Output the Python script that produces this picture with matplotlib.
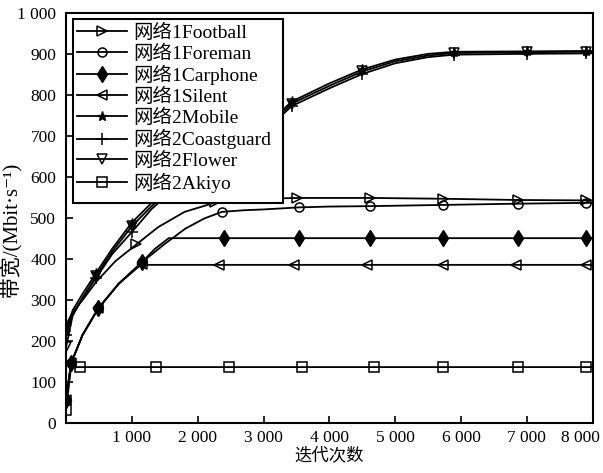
import matplotlib
matplotlib.use("Agg")
import matplotlib.pyplot as plt
from matplotlib.transforms import ScaledTranslation
from matplotlib.patches import Rectangle

plt.rcParams['font.family'] = ['Liberation Serif', 'Noto Sans CJK SC', 'DejaVu Sans']

# ---- data ----
names = ["网络1Football", "网络1Foreman", "网络1Carphone", "网络1Silent",
         "网络2Mobile", "网络2Coastguard", "网络2Flower", "网络2Akiyo"]

x_top = [0, 100, 250, 460, 700, 1000, 1300, 1700, 2200, 2700, 3270, 3430,
         4000, 4500, 5000, 5500, 5900, 7000, 7900, 8000]
y_mobile = [225, 275, 315, 367, 425, 489, 537, 592, 648, 703, 760, 784,
            828, 862, 886, 900, 905, 906, 907, 907]
y_coast = [215, 265, 305, 355, 412, 466, 522, 579, 636, 691, 749, 773,
           816, 851, 877, 892, 898, 900, 901, 901]
y_flower = [185, 262, 305, 360, 418, 480, 529, 585, 642, 697, 755, 779,
            822, 857, 882, 896, 902, 904, 905, 905]
mk_top = [0, 3, 5, 8, 11, 13, 16, 17, 18]

x_football = [0, 100, 250, 460, 750, 1070, 1400, 1800, 2270, 2600, 3000,
              3510, 4620, 5730, 6860, 7900, 8000]
y_football = [240, 270, 300, 345, 395, 436, 478, 515, 538, 545, 547,
              549, 549, 547, 544, 543, 543]
mk_football = [0, 5, 8, 11, 12, 13, 14, 15]

x_foreman = [0, 76, 250, 490, 800, 1150, 1500, 1810, 2100, 2365, 2700,
             3000, 3540, 4000, 4620, 5730, 6860, 7900, 8000]
y_foreman = [56, 146, 215, 280, 340, 392, 437, 474, 499, 515, 519,
             521, 526, 528, 529, 532, 535, 537, 537]
mk_foreman = [0, 1, 3, 5, 9, 12, 14, 15, 16, 17]

x_carphone = [0, 76, 250, 490, 800, 1150, 1350, 1560, 2400, 3540, 4620,
              5730, 6860, 7900, 8000]
y_carphone = [56, 146, 215, 280, 340, 392, 425, 451, 451, 451, 451,
              451, 451, 451, 451]
mk_carphone = [0, 1, 3, 5, 8, 9, 10, 11, 12, 13]

x_silent = [0, 76, 250, 490, 800, 1150, 1250, 2320, 3460, 4570, 5720,
            6840, 7900, 8000]
y_silent = [56, 146, 215, 280, 340, 388, 386, 386, 386, 386, 386,
            386, 386, 386]
mk_silent = [0, 1, 3, 5, 7, 8, 9, 10, 11, 12]

x_akiyo = [0, 76, 210, 1360, 2470, 3580, 4680, 5730, 6860, 7900, 8000]
y_akiyo = [32, 137, 137, 137, 137, 137, 137, 137, 137, 137, 137]
mk_akiyo = [0, 2, 3, 4, 5, 6, 7, 8, 9]

x_ticks = [1000, 2000, 3000, 4000, 5000, 6000, 7000, 8000]
x_ticklabels = ["1 000", "2 000", "3 000", "4 000", "5 000", "6 000", "7 000", "8 000"]
y_ticks = [0, 100, 200, 300, 400, 500, 600, 700, 800, 900, 1000]
y_ticklabels = ["0", "100", "200", "300", "400", "500", "600", "700", "800", "900", "1 000"]

# ---- plot ----
fig = plt.figure(figsize=(6.03, 4.73), dpi=100)
ax = fig.add_axes([0.1095, 0.105, 0.8735, 0.868])

lw = 1.3
common = dict(color='black', lw=lw, mec='black')
series = [
    (x_football, y_football, mk_football, dict(marker='>', ms=7, mfc='none', mew=1.1)),
    (x_foreman, y_foreman, mk_foreman, dict(marker='o', ms=6.5, mfc='none', mew=1.1)),
    (x_carphone, y_carphone, mk_carphone, dict(marker='d', ms=8.5, mfc='black', mew=1)),
    (x_silent, y_silent, mk_silent, dict(marker='<', ms=7, mfc='none', mew=1.1)),
    (x_top, y_mobile, mk_top, dict(marker='*', ms=6.5, mfc='black', mew=1)),
    (x_top, y_coast, mk_top, dict(marker='+', ms=8, mfc='black', mew=1.1)),
    (x_top, y_flower, mk_top, dict(marker='v', ms=7, mfc='none', mew=1.1)),
    (x_akiyo, y_akiyo, mk_akiyo, dict(marker='s', ms=6.5, mfc='none', mew=1.1)),
]
for (xs, ys, mk, st), name in zip(series, names):
    ax.plot(xs, ys, markevery=mk, label=name, **common, **st)

ax.set_xlim(0, 8000)
ax.set_ylim(0, 1000)
ax.set_xticks(x_ticks)
ax.set_xticklabels(x_ticklabels)
ax.set_yticks(y_ticks)
ax.set_yticklabels(y_ticklabels)
ax.tick_params(direction='in', length=5, width=1.2, labelsize=12.5, colors='black')
ax.tick_params(axis='y', pad=7)
ax.tick_params(axis='x', pad=5)
for s in ax.spines.values():
    s.set_linewidth(1.5)

# last x tick label shifted so it stays in the figure, as in the reference
last = ax.get_xticklabels()[-1]
last.set_horizontalalignment('right')
last.set_transform(last.get_transform() + ScaledTranslation(7 / 100, 0, fig.dpi_scale_trans))

ax.set_xlabel("迭代次数", fontsize=12.5, labelpad=1)
ax.set_ylabel("带宽/(Mbit·s⁻¹)", fontsize=15)
ax.yaxis.set_label_coords(-0.085, 0.47)

# legend frame (drawn as a box in axes coordinates)
frame = Rectangle((0.0127, 0.5365), 0.3985, 0.4474, transform=ax.transAxes,
                  facecolor='white', edgecolor='black', lw=1.5, zorder=5)
ax.add_patch(frame)
leg = ax.legend(loc='upper left', bbox_to_anchor=(0.0127, 0.984), borderaxespad=0,
                frameon=False, fontsize=14,
                handlelength=2.55, handletextpad=0.35, labelspacing=0.125,
                borderpad=0.22)
leg.set_zorder(6)

fig.savefig("out.png", dpi=100)
